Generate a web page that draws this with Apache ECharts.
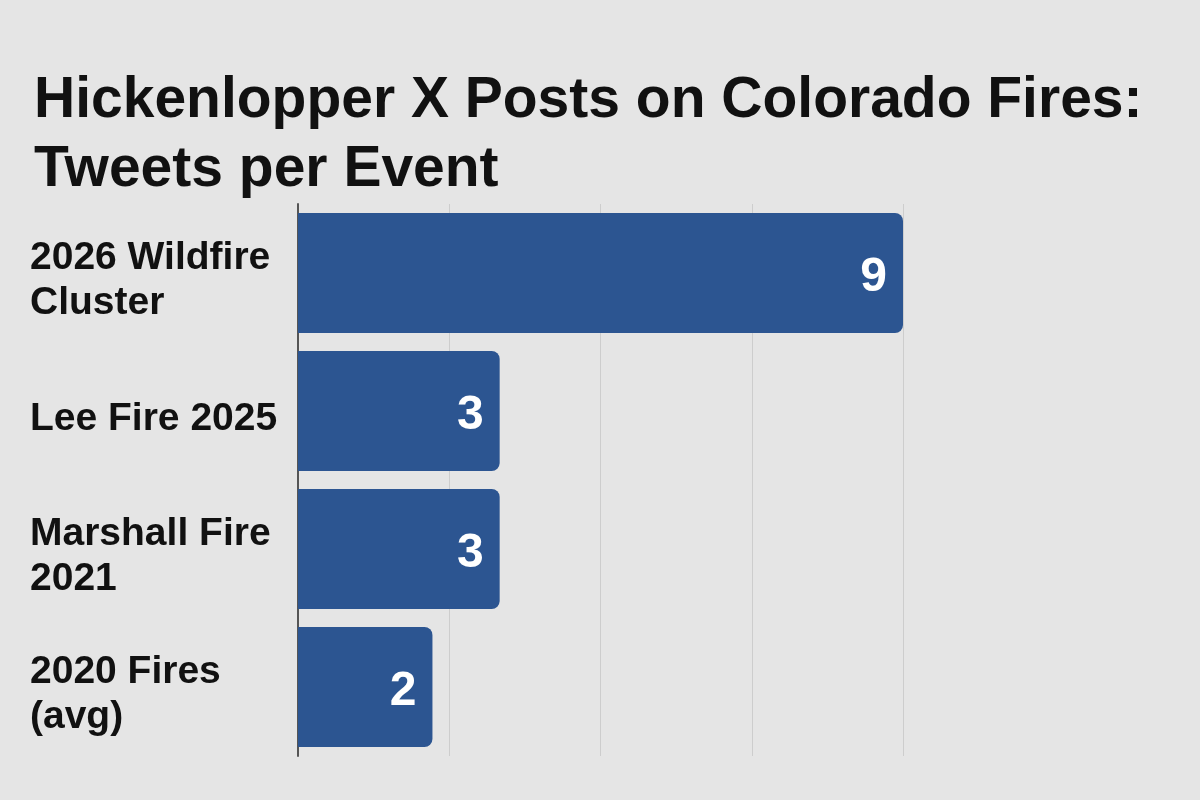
<!DOCTYPE html>
<html>
<head>
<meta charset="utf-8">
<script src="https://cdn.jsdelivr.net/npm/echarts@6/dist/echarts.min.js"></script>
<style>
html,body{margin:0;padding:0;background:#e5e5e5;}
#chart{width:1200px;height:800px;}
</style>
</head>
<body>
<div id="chart"></div>
<script>
const categories = ["2026 Wildfire\nCluster", "Lee Fire 2025", "Marshall Fire\n2021", "2020 Fires\n(avg)"];
const tweets = [9, 3, 3, 2];
const titleText = "Hickenlopper X Posts on Colorado Fires:\nTweets per Event";

const chart = echarts.init(document.getElementById('chart'));
chart.setOption({
  backgroundColor: '#e5e5e5',
  animation: false,
  title: {
    text: titleText,
    left: 29,
    top: 62,
    textStyle: {
      fontFamily: 'Liberation Sans',
      fontSize: 57,
      fontWeight: 'bold',
      color: '#111111',
      lineHeight: 69
    }
  },
  grid: { left: 298, right: 297, top: 204, bottom: 44 },
  xAxis: {
    type: 'value',
    min: 0,
    max: 9,
    interval: 2.25,
    axisLabel: { show: false },
    axisLine: { show: false },
    axisTick: { show: false },
    splitLine: { show: true, lineStyle: { color: '#cdcdcd', width: 1 } }
  },
  yAxis: {
    type: 'category',
    inverse: true,
    data: categories,
    axisTick: { show: false },
    axisLine: { show: true, lineStyle: { color: '#555555', width: 2 } },
    axisLabel: {
      align: 'left',
      margin: 268,
      formatter: function (v) {
        return '{s| }\n' + v.split('\n').map(function (s) { return '{a|' + s + '}'; }).join('\n');
      },
      rich: {
        s: { fontSize: 1, lineHeight: 16 },
        a: {
          fontFamily: 'Liberation Sans',
          fontSize: 39,
          fontWeight: 'bold',
          color: '#111111',
          lineHeight: 45
        }
      }
    }
  },
  series: [{
    type: 'bar',
    data: tweets,
    barWidth: 120,
    itemStyle: { color: '#2c5591', borderRadius: [0, 8, 8, 0] },
    label: {
      show: true,
      position: 'insideRight',
      distance: 16,
      offset: [0, 5],
      color: '#ffffff',
      fontFamily: 'Liberation Sans',
      fontSize: 48,
      fontWeight: 'bold'
    }
  }]
});
</script>
</body>
</html>
